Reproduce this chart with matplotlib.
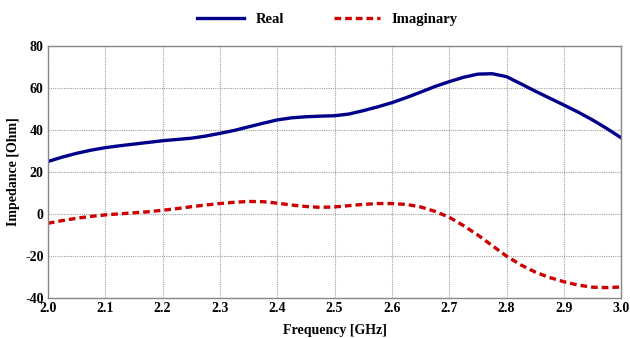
import matplotlib
matplotlib.use("Agg")
import matplotlib.pyplot as plt

freq = [2.000, 2.025, 2.050, 2.075, 2.100, 2.125, 2.150, 2.175, 2.200, 2.225,
        2.250, 2.275, 2.300, 2.325, 2.350, 2.375, 2.400, 2.425, 2.450, 2.475,
        2.500, 2.525, 2.550, 2.575, 2.600, 2.625, 2.650, 2.675, 2.700, 2.725,
        2.750, 2.775, 2.800, 2.825, 2.850, 2.875, 2.900, 2.925, 2.950, 2.975,
        3.000]
real = [25.0, 27.1, 28.9, 30.4, 31.6, 32.5, 33.3, 34.1, 34.9, 35.5,
        36.1, 37.1, 38.4, 39.8, 41.5, 43.2, 44.8, 45.8, 46.3, 46.6,
        46.8, 47.6, 49.2, 51.0, 53.0, 55.4, 58.0, 60.7, 63.0, 65.1,
        66.6, 66.8, 65.4, 62.0, 58.5, 55.2, 51.9, 48.5, 44.8, 40.7,
        36.3]
imag = [-4.4, -3.1, -2.0, -1.1, -0.4, 0.1, 0.6, 1.1, 1.8, 2.6,
        3.5, 4.3, 5.0, 5.6, 6.0, 5.9, 5.2, 4.3, 3.6, 3.2,
        3.4, 4.0, 4.6, 5.0, 5.0, 4.6, 3.4, 1.3, -1.5, -5.5,
        -10.0, -15.0, -20.0, -24.2, -27.6, -30.2, -32.2, -33.8, -34.8, -35.0,
        -34.7]
xticks = [2.0, 2.1, 2.2, 2.3, 2.4, 2.5, 2.6, 2.7, 2.8, 2.9, 3.0]
yticks = [-40, -20, 0, 20, 40, 60, 80]

plt.rcParams['font.family'] = ['Liberation Serif', 'DejaVu Serif']
plt.rcParams['font.weight'] = 'bold'

fig = plt.figure(figsize=(6.3, 3.38), dpi=100)
ax = fig.add_axes([0.076, 0.118, 0.910, 0.746])

ax.plot(freq, real, color='#00008B', lw=2.4, label='Real', solid_joinstyle='round')
ax.plot(freq, imag, color='#CC0000', lw=2.4, ls=(0, (2.0, 1.2)), label='Imaginary')

ax.set_xlim(2.0, 3.0)
ax.set_ylim(-40, 80)
ax.set_xticks(xticks)
ax.set_xticklabels([f"{t:.1f}" for t in xticks])
ax.set_yticks(yticks)
ax.set_yticklabels([str(t) for t in yticks])
ax.tick_params(length=0, labelsize=10, pad=3)
for lab in ax.get_xticklabels() + ax.get_yticklabels():
    lab.set_fontweight('bold')
ax.grid(True, color='#a0a0a0', ls=(0, (1, 1)), lw=0.8)
for s in ax.spines.values():
    s.set_color('#888888')
    s.set_linewidth(1.0)

ax.set_xlabel('Frequency [GHz]', fontsize=10, fontweight='bold', labelpad=6)
ax.set_ylabel('Impedance [Ohm]', fontsize=10, fontweight='bold', labelpad=4)

fig.legend(loc='upper center', bbox_to_anchor=(0.52, 1.0), ncol=2, frameon=False,
           handlelength=3.2, columnspacing=3.4, prop={'size': 10.5, 'weight': 'bold'})

fig.savefig('out.png', dpi=100)
